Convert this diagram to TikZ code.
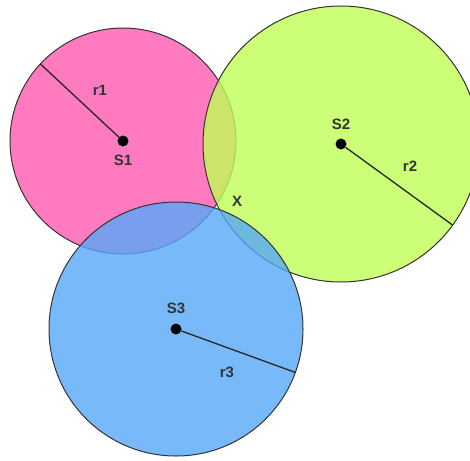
\documentclass[tikz,border=0pt]{standalone}
\usepackage{fontspec}
\setmainfont{Liberation Sans}
\usepackage{xcolor}
\usetikzlibrary{positioning, calc}

\definecolor{pinkdisk}{RGB}{255,89,174}
\definecolor{greendisk}{RGB}{191,255,85}
\definecolor{bluedisk}{RGB}{86,168,249}

\begin{document}
\begin{tikzpicture}[x=1pt, y=-1pt,
        disk/.style={draw=black!80, line width=1pt, fill opacity=0.8},
        centre/.style={circle, fill=black, inner sep=0pt, minimum size=11pt},
        radius/.style={draw=black!85, line width=1.3pt},
        tag/.style={font=\fontsize{15}{17}\bfseries, text=black!80}]

        \useasboundingbox (0,0) rectangle (470,460);

        % Station centres
        \coordinate (s1) at (123,141);
        \coordinate (s2) at (341,144);
        \coordinate (s3) at (176,329);

        % Disks
        \filldraw [disk, fill=pinkdisk] (s1) circle (113pt);
        \filldraw [disk, fill=greendisk] (s2) circle (138pt);
        \filldraw [disk, fill=bluedisk] (s3) circle (127pt);

        \node [centre] (c1) at (s1) {};
        \node [centre] (c2) at (s2) {};
        \node [centre] (c3) at (s3) {};

        % Radius ends
        \coordinate (e1) at ($(s1)+(137:113pt)$);
        \coordinate (e2) at ($(s2)+(-36:138pt)$);
        \coordinate (e3) at ($(s3)+(-20:127pt)$);

        \draw [radius] (c1) -- (e1);
        \draw [radius] (c2) -- (e2);
        \draw [radius] (c3) -- (e3);

        % Labels
        \node [tag, below=5pt of c1] (l1) {S1};
        \node [tag, above=5pt of c2] (l2) {S2};
        \node [tag, above=6pt of c3] (l3) {S3};
        \node [tag] (r1) at (100,90) {r1};
        \node [tag] (r2) at (410,166) {r2};
        \node [tag] (r3) at (227,372) {r3};
        \node [tag] (x) at (237,201) {X};

\end{tikzpicture}
\end{document}
